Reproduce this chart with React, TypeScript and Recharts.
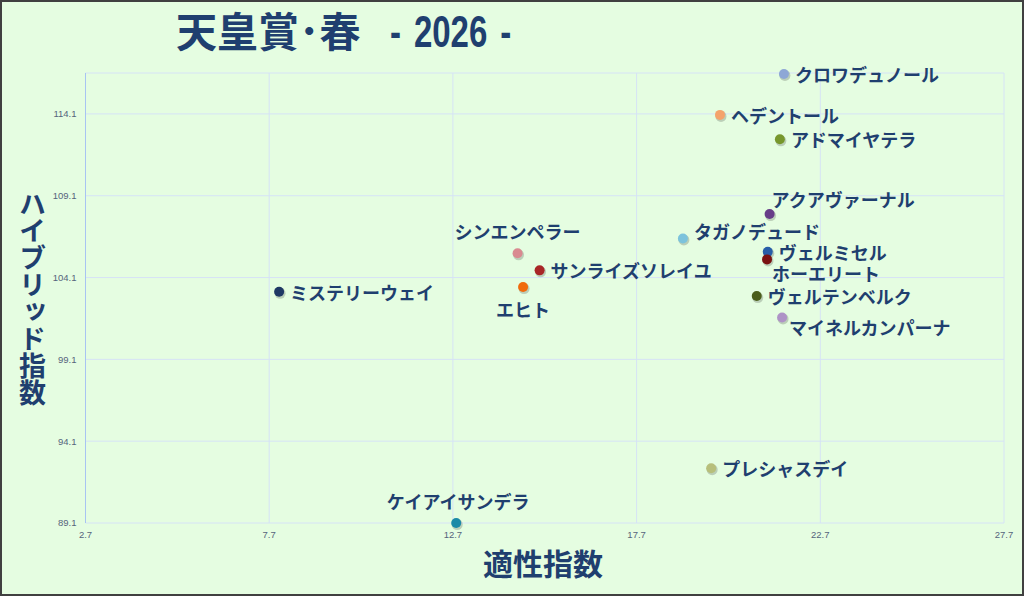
import { CartesianGrid, Scatter, ScatterChart, XAxis, YAxis } from "recharts";

// 出走馬と指数
const horses = [
  "クロワデュノール",
  "ヘデントール",
  "アドマイヤテラ",
  "アクアヴァーナル",
  "タガノデュード",
  "ヴェルミセル",
  "ホーエリート",
  "ヴェルテンベルク",
  "マイネルカンパーナ",
  "シンエンペラー",
  "サンライズソレイユ",
  "エヒト",
  "ミステリーウェイ",
  "プレシャスデイ",
  "ケイアイサンデラ",
];
const tekisei = [21.71, 19.97, 21.6, 21.32, 18.96, 21.27, 21.25, 20.97, 21.66, 14.46, 15.06, 14.61, 7.97, 19.73, 12.79];
const hybrid = [116.54, 114.04, 112.55, 107.98, 106.49, 105.67, 105.21, 102.97, 101.66, 105.58, 104.54, 103.52, 103.23, 92.45, 89.1];
const dotColors = [
  "#8ea7d6",
  "#f4a36c",
  "#77972c",
  "#673d88",
  "#7cc3dc",
  "#285ea8",
  "#7a1212",
  "#4b5e1b",
  "#ae93c6",
  "#d98a90",
  "#a82626",
  "#f06b0c",
  "#1f3864",
  "#b7bf7b",
  "#1b89a7",
];
const xTicks = [2.7, 7.7, 12.7, 17.7, 22.7, 27.7];
const yTicks = [89.1, 94.1, 99.1, 104.1, 109.1, 114.1];

const rows = horses.map((name, i) => ({ name, x: tekisei[i], y: hybrid[i], color: dotColors[i] }));

const NAVY = "#1f3f6f";
const JP = '"Noto Sans CJK JP", "Noto Sans", sans-serif';

type Place = { dx: number; dy: number; anchor: "start" | "middle" };
const defaultPlace: Place = { dx: 11, dy: 0, anchor: "start" };
// ラベルの置き方（点からのずれ）
const labelPlace: Record<string, Place> = {
  アクアヴァーナル: { dx: 2, dy: -15, anchor: "start" },
  タガノデュード: { dx: 11, dy: -7, anchor: "start" },
  ホーエリート: { dx: 5, dy: 14, anchor: "start" },
  マイネルカンパーナ: { dx: 7, dy: 10, anchor: "start" },
  シンエンペラー: { dx: 0, dy: -22, anchor: "middle" },
  エヒト: { dx: 0, dy: 22, anchor: "middle" },
  ケイアイサンデラ: { dx: 2, dy: -22, anchor: "middle" },
};

function Dot(props: any) {
  const { cx, cy, payload } = props;
  const p = labelPlace[payload.name] ?? defaultPlace;
  return (
    <g>
      <circle cx={cx + 1} cy={cy + 1.5} r={5.5} fill="rgba(0,0,0,0.18)" />
      <circle cx={cx} cy={cy} r={5} fill={payload.color} />
      <text
        x={cx + p.dx}
        y={cy + p.dy}
        textAnchor={p.anchor}
        dominantBaseline="central"
        fill={NAVY}
        fontFamily={JP}
        fontWeight={700}
        fontSize={18}
      >
        {payload.name}
      </text>
    </g>
  );
}

const tickStyle = { fontSize: 9.5, fill: "#55647c", fontFamily: '"Liberation Sans", sans-serif' };

export default function App() {
  return (
    <div
      style={{
        position: "absolute",
        left: 0,
        top: 0,
        width: 1024,
        height: 596,
        background: "#e5fde1",
        overflow: "hidden",
      }}
    >
      <ScatterChart width={1024} height={596} margin={{ top: 73, right: 20, bottom: 43, left: 8 }}>
        <CartesianGrid stroke="#d6e3f6" strokeWidth={1} />
        <XAxis
          type="number"
          dataKey="x"
          domain={[2.7, 27.7]}
          ticks={xTicks}
          tickFormatter={(v) => v.toFixed(1)}
          axisLine={false}
          tickLine={false}
          height={30}
          tick={tickStyle}
          interval={0}
        />
        <YAxis
          type="number"
          dataKey="y"
          domain={[89.1, 116.6]}
          ticks={yTicks}
          tickFormatter={(v) => v.toFixed(1)}
          axisLine={{ stroke: "#a8c4f2" }}
          tickLine={false}
          width={77.5}
          tick={tickStyle}
          tickMargin={3}
          interval={0}
        />
        <Scatter data={rows} shape={Dot} isAnimationActive={false} />
      </ScatterChart>

      <div
        style={{
          position: "absolute",
          left: 176,
          top: 9,
          fontFamily: JP,
          fontWeight: 700,
          fontSize: 41,
          lineHeight: 1,
          color: NAVY,
          whiteSpace: "nowrap",
        }}
      >
        天皇賞･春
        <span
          style={{
            display: "inline-block",
            fontFamily: '"Liberation Sans", sans-serif',
            fontSize: 44,
            marginLeft: 29,
            wordSpacing: 5,
            transform: "scaleX(0.75)",
            transformOrigin: "left center",
          }}
        >
          - 2026 -
        </span>
      </div>

      <div
        style={{
          position: "absolute",
          left: 19,
          top: 190,
          writingMode: "vertical-rl",
          fontFamily: JP,
          fontWeight: 700,
          fontSize: 27,
          lineHeight: 1,
          color: NAVY,
          whiteSpace: "nowrap",
        }}
      >
        ハイブリッド指数
      </div>

      <div
        style={{
          position: "absolute",
          left: 483,
          top: 547,
          width: 120,
          textAlign: "center",
          fontFamily: JP,
          fontWeight: 700,
          fontSize: 30,
          lineHeight: 1,
          color: NAVY,
          whiteSpace: "nowrap",
        }}
      >
        適性指数
      </div>

      <div
        style={{
          position: "absolute",
          inset: 0,
          border: "2px solid #404040",
          pointerEvents: "none",
        }}
      />
    </div>
  );
}
